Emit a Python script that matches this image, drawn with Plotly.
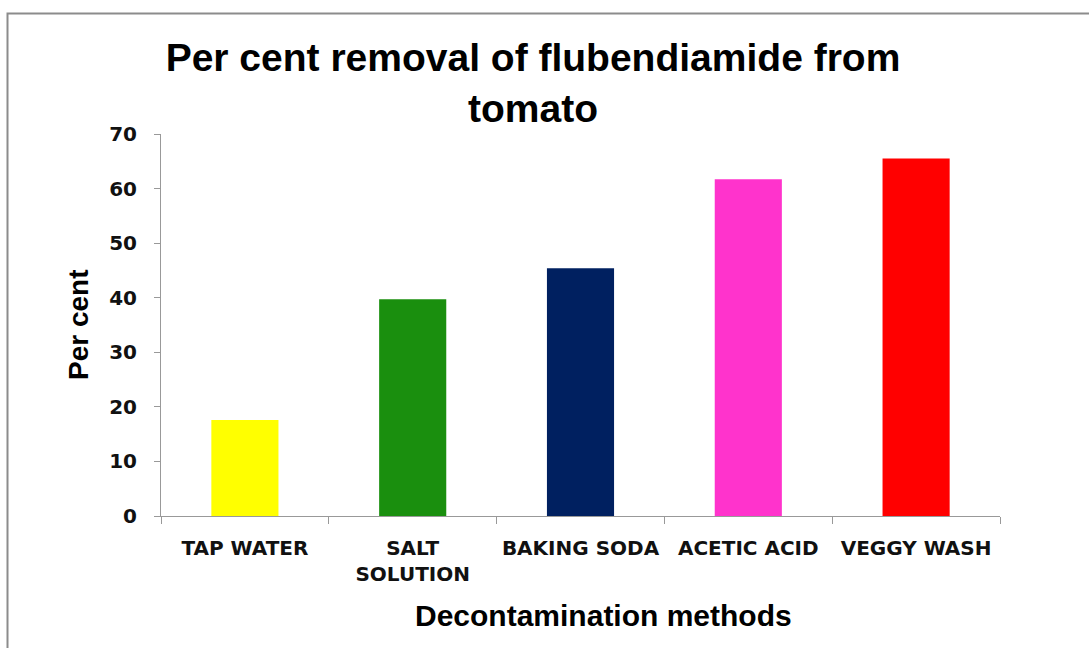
import plotly.graph_objects as go

categories = ["TAP WATER", "SALT<br>SOLUTION", "BAKING SODA", "ACETIC ACID", "VEGGY WASH"]
values = [17.6, 39.7, 45.4, 61.7, 65.5]
colors = ["#FFFF00", "#1A8F0E", "#002060", "#FF33CC", "#FF0000"]

W, H = 1089, 648
L, R, T, B = 161, 89, 134, 132
pw, ph = W - L - R, H - T - B

fig = go.Figure(go.Bar(x=categories, y=values, marker=dict(color=colors, line=dict(width=0)), width=0.4))

fig.update_layout(
    width=W, height=H,
    margin=dict(l=L, r=R, t=T, b=B),
    paper_bgcolor="white", plot_bgcolor="white",
    showlegend=False,
    title=dict(text="<b>Per cent removal of flubendiamide from<br>tomato</b>",
               x=533 / W, xanchor="center", xref="container",
               y=1 - 71 / H, yanchor="top", yref="container",
               font=dict(family="Liberation Sans, Arial", size=39, color="black")),
    font=dict(family="DejaVu Sans", color="black"),
)
fig.update_xaxes(
    showline=True, linecolor="#999999", linewidth=1,
    ticks="outside", tickson="boundaries", ticklen=7, tickcolor="#999999",
    tickfont=dict(family="DejaVu Sans", size=20, color="#111111", weight="bold"),
    ticklabelstandoff=14,
    showgrid=False,
)
fig.update_yaxes(
    range=[0, 70], dtick=10, tick0=0,
    showline=True, linecolor="#999999", linewidth=1,
    ticks="outside", ticklen=6, tickcolor="#999999",
    tickfont=dict(family="DejaVu Sans", size=20, color="#111111", weight="bold"),
    ticklabelstandoff=13,
    showgrid=False, zeroline=False,
)
fig.add_annotation(text="<b>Per cent</b>", xref="paper", yref="paper", x=0, y=0.5,
                   xshift=-(L - 78), textangle=-90, showarrow=False,
                   font=dict(family="Liberation Sans, Arial", size=28, color="black"),
                   xanchor="center", yanchor="middle")
fig.add_annotation(text="<b>Decontamination methods</b>", xref="paper", yref="paper",
                   x=(603 - L) / pw, y=0, yshift=-(615 - (H - B)),
                   showarrow=False,
                   font=dict(family="Liberation Sans, Arial", size=30, color="black"),
                   xanchor="center", yanchor="middle")
fig.add_shape(type="rect", xref="paper", yref="paper",
              x0=(7.5 - L) / pw, x1=(W + 20 - L) / pw,
              y0=-(H + 20 - (H - B)) / ph, y1=((H - B) - 13.5) / ph,
              line=dict(color="#8C8C8C", width=2), fillcolor="rgba(0,0,0,0)", layer="below")

fig.write_html("out.html", config={"displayModeBar": False},
               post_script="document.body.style.margin='0';document.body.style.overflow='hidden';")
